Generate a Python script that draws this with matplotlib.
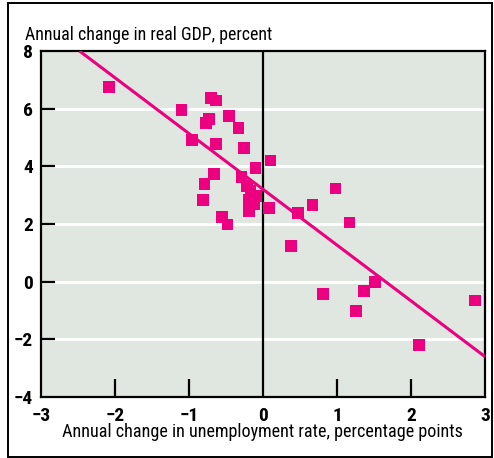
import matplotlib
matplotlib.use("Agg")
import matplotlib.pyplot as plt
from matplotlib.patches import Rectangle
from matplotlib import font_manager as fm

# Data
unemp_change = [-2.08, -1.10, -0.70, -0.64, -0.73, -0.77, -0.46, -0.33, -0.96, -0.64,
                -0.26, 0.10, -0.10, -0.66, -0.79, -0.29, -0.22, -0.81, -0.19, -0.19,
                -0.09, 0.08, -0.55, -0.48, 0.98, 0.67, 0.47, 1.17, 0.38, 1.51,
                1.36, 0.81, 1.26, 2.86, 2.11, -0.17, -0.12]
gdp_change = [6.75, 5.95, 6.38, 6.28, 5.65, 5.50, 5.74, 5.34, 4.91, 4.77,
              4.63, 4.20, 3.94, 3.73, 3.40, 3.63, 3.31, 2.82, 2.85, 2.45,
              2.97, 2.55, 2.23, 1.98, 3.23, 2.66, 2.37, 2.05, 1.23, -0.02,
              -0.32, -0.42, -1.03, -0.65, -2.19, 3.15, 2.70]
fit_x = [-2.48, 3.0]
fit_y = [8.0, -2.6]
xticks = [-3, -2, -1, 0, 1, 2, 3]
yticks = [-4, -2, 0, 2, 4, 6, 8]
y_title = "Annual change in real GDP, percent"
x_title = "Annual change in unemployment rate, percentage points"

PINK = "#EC0080"
BG = "#E0E6E0"

# choose a narrow sans font if one is available
installed = fm.fontManager.ttflist
names = {f.name for f in installed}
fam, stretch = "DejaVu Sans", "normal"
for cand in ["Liberation Sans Narrow", "Roboto Condensed", "Open Sans Condensed",
             "Noto Sans Condensed", "Arial Narrow"]:
    if cand in names:
        fam = cand
        break
else:
    for f in installed:
        if f.name in ("DejaVu Sans", "Roboto", "Noto Sans", "Open Sans") and \
                str(f.stretch) in ("condensed", "semi-condensed", "600", "500", "300"):
            fam, stretch = f.name, "condensed"
            break
FONT = [fam, "DejaVu Sans"]
plt.rcParams['font.family'] = FONT
plt.rcParams['font.stretch'] = stretch

W, H = 494, 458
fig = plt.figure(figsize=(W / 100, H / 100), dpi=100)
fig.patch.set_facecolor("white")

ax = fig.add_axes([41 / W, 1 - 397 / H, 444 / W, 346 / H])
ax.set_facecolor(BG)
ax.set_xlim(-3, 3)
ax.set_ylim(-4, 8)

for yv in yticks[1:-1]:
    ax.axhline(yv, color="white", lw=2.0, zorder=1)
ax.axvline(0, color="black", lw=1.6, zorder=2)

ax.plot(fit_x, fit_y, color=PINK, lw=2.2, zorder=3, solid_capstyle="butt")
ax.scatter(unemp_change, gdp_change, marker="s", s=72, color=PINK,
           edgecolors="none", zorder=4)

for sp in ax.spines.values():
    sp.set_linewidth(1.6)
    sp.set_color("black")

ax.set_xticks(xticks)
ax.set_yticks(yticks)
ax.set_xticklabels([str(t).replace("-", "\u2212") for t in xticks])
ax.set_yticklabels([str(t).replace("-", "\u2212") for t in yticks])
ax.tick_params(axis="x", direction="in", length=13, width=1.6, pad=7,
               labelsize=14)
ax.tick_params(axis="y", direction="in", length=10, width=1.6, pad=6,
               labelsize=14)
for t in ax.xaxis.get_major_ticks():
    if t.get_loc() in (-3, 0, 3):
        t.tick1line.set_visible(False)
    t.tick2line.set_visible(False)
for t in ax.yaxis.get_major_ticks():
    if t.get_loc() in (-4, 8):
        t.tick1line.set_visible(False)
    t.tick2line.set_visible(False)
for lab in ax.get_xticklabels() + ax.get_yticklabels():
    lab.set_fontweight("bold")

t1 = fig.text(25 / W, 1 - 40 / H, y_title, ha="left", va="baseline", fontsize=12)
t2 = fig.text(262 / W, 1 - 437 / H, x_title, ha="center", va="baseline", fontsize=12)

# scale title sizes so their widths match the reference
renderer = fig.canvas.get_renderer()
for txt, target in ((t1, 247), (t2, 400)):
    w = txt.get_window_extent(renderer).width
    txt.set_fontsize(txt.get_fontsize() * target / w)

fig.patches.append(Rectangle((8 / W, 1 - 457 / H), 484 / W, 454 / H,
                             transform=fig.transFigure, fill=False,
                             edgecolor="black", lw=1.4))

fig.savefig("out.png", dpi=100)
